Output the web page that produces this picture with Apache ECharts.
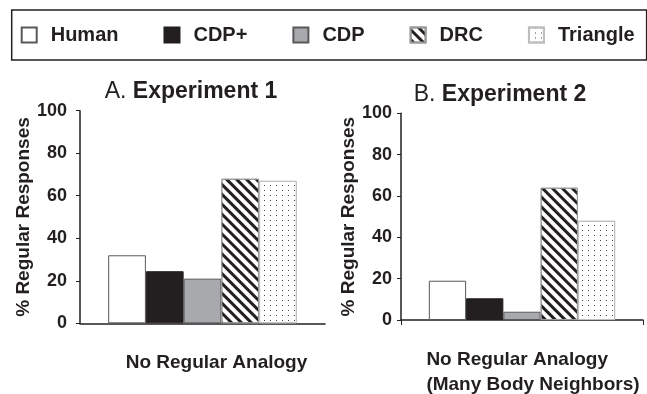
<!DOCTYPE html>
<html>
<head>
<meta charset="utf-8">
<script src="https://cdn.jsdelivr.net/npm/echarts@6/dist/echarts.min.js"></script>
<style>
html,body{margin:0;padding:0;background:#fff;}
#chart{width:647px;height:394px;}
</style>
</head>
<body>
<div id="chart"></div>
<script>
// ---- data ----
var seriesNames = ['Human', 'CDP+', 'CDP', 'DRC', 'Triangle'];
var categoriesA = ['No Regular Analogy'];
var categoriesB = ['No Regular Analogy\n(Many Body Neighbors)'];
var exp1Values = [32, 24.5, 21, 68, 67];
var exp2Values = [19, 10.5, 4, 64, 48];
var yTicks = [0, 20, 40, 60, 80, 100];
var titleA = ['A. ', 'Experiment 1'];
var titleB = ['B. ', 'Experiment 2'];
var yAxisName = '% Regular Responses';

// ---- styles ----
var FONT = "'Liberation Sans', Arial, Helvetica, sans-serif";
var INK = '#231f20';
var styles = {
  'Human':    {color: '#ffffff', borderColor: '#58595b', borderWidth: 1},
  'CDP+':     {color: INK, borderColor: INK, borderWidth: 1},
  'CDP':      {color: '#a7a9ac', borderColor: '#58595b', borderWidth: 1},
  'DRC':      {color: '#ffffff', borderColor: '#9a9a9a', borderWidth: 1,
               decal: {symbol: 'rect', symbolSize: 1, dashArrayX: [1, 0], dashArrayY: [3, 4],
                       rotation: Math.PI / 4, color: INK}},
  'Triangle': {color: '#ffffff', borderColor: '#bcbec0', borderWidth: 1,
               decal: {symbol: 'rect', symbolSize: 1, dashArrayX: [1, 5], dashArrayY: [1, 4],
                       rotation: 0, color: '#444'}}
};

function labelFormatter(v) {
  return v.split('\n').map(function (s) { return '{a|' + s + '}'; }).join('\n');
}

function makeSeries(values, idx) {
  return seriesNames.map(function (name, i) {
    return {
      name: name,
      type: 'bar',
      xAxisIndex: idx,
      yAxisIndex: idx,
      barGap: '0%',
      barCategoryGap: '23%',
      itemStyle: styles[name],
      emphasis: {disabled: true},
      data: [values[i]]
    };
  });
}

function yAxisCfg(idx, nameGap, labelMargin) {
  return {
    type: 'value', gridIndex: idx, min: yTicks[0], max: yTicks[yTicks.length - 1],
    interval: yTicks[1] - yTicks[0],
    name: yAxisName, nameLocation: 'middle', nameGap: nameGap,
    nameTextStyle: {fontFamily: FONT, fontWeight: 'bold', fontSize: 19, color: INK},
    axisLine: {show: true, lineStyle: {color: INK, width: 1.5}},
    axisTick: {show: true, length: 4, lineStyle: {color: INK, width: 1}},
    axisLabel: {fontFamily: FONT, fontWeight: 'bold', fontSize: 18, color: INK, margin: labelMargin},
    splitLine: {show: false}
  };
}

function xAxisCfg(idx, cats, showTick, padLeft) {
  return {
    type: 'category', gridIndex: idx, data: cats,
    axisLine: {show: true, lineStyle: {color: INK, width: 1.5}},
    axisTick: {show: showTick, length: 5, lineStyle: {color: INK, width: 1}},
    axisLabel: {
      margin: 27, interval: 0, formatter: labelFormatter,
      rich: {a: {fontFamily: FONT, fontWeight: 'bold', fontSize: 19, color: INK,
                 lineHeight: 25, align: 'left', padding: [0, 0, 0, padLeft]}}
    }
  };
}

function titleCfg(parts, left, top) {
  return {
    text: '{n|' + parts[0] + '}{b|' + parts[1] + '}',
    left: left, top: top, textAlign: 'center', padding: 0,
    textStyle: {
      rich: {
        n: {fontFamily: FONT, fontWeight: 'normal', fontSize: 23, color: INK, lineHeight: 24},
        b: {fontFamily: FONT, fontWeight: 'bold', fontSize: 23, color: INK, lineHeight: 24}
      }
    }
  };
}

var chart = echarts.init(document.getElementById('chart'), null, {renderer: 'canvas'});
chart.setOption({
  animation: false,
  backgroundColor: '#ffffff',
  title: [titleCfg(titleA, 191, 80), titleCfg(titleB, 500, 83)],
  legend: {
    data: seriesNames,
    left: 11.7, top: 10,
    padding: [15, 12, 15, 9],
    borderColor: INK, borderWidth: 1.5,
    itemGap: 45, itemWidth: 15, itemHeight: 15,
    icon: 'rect',
    selectedMode: false,
    textStyle: {fontFamily: FONT, fontWeight: 'bold', fontSize: 20, color: INK, padding: [0, 0, 0, 9]}
  },
  grid: [
    {left: 80, right: 322, top: 110.7, bottom: 70.7},
    {left: 401, right: 4, top: 113.3, bottom: 73.3}
  ],
  xAxis: [xAxisCfg(0, categoriesA, false, 28), xAxisCfg(1, categoriesB, true, 22)],
  yAxis: [yAxisCfg(0, 45, 13), yAxisCfg(1, 43, 9)],
  series: makeSeries(exp1Values, 0).concat(makeSeries(exp2Values, 1))
});
</script>
</body>
</html>
